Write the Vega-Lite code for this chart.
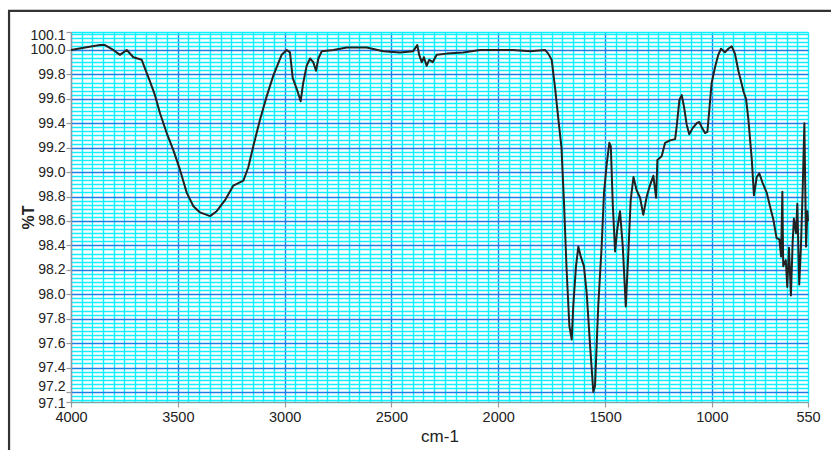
{
  "$schema": "https://vega.github.io/schema/vega-lite/v6.json",
  "width": 737,
  "height": 370,
  "autosize": {"type": "none"},
  "padding": {"left": 71, "top": 32, "right": 23, "bottom": 48},
  "background": "white",
  "config": {
    "view": {"stroke": null},
    "axis": {"labelFont": "Liberation Sans, Arial, sans-serif", "titleFont": "Liberation Sans, Arial, sans-serif"}
  },
  "layer": [
    {
      "data": {"values": [
        {"wn": 4000, "t": 100.0}, {"wn": 3934, "t": 100.02}, {"wn": 3864, "t": 100.04}, {"wn": 3841, "t": 100.04},
        {"wn": 3802, "t": 100.0}, {"wn": 3771, "t": 99.96}, {"wn": 3739, "t": 100.0}, {"wn": 3708, "t": 99.94},
        {"wn": 3669, "t": 99.92}, {"wn": 3654, "t": 99.85}, {"wn": 3630, "t": 99.74}, {"wn": 3607, "t": 99.63},
        {"wn": 3583, "t": 99.48}, {"wn": 3552, "t": 99.32}, {"wn": 3521, "t": 99.18}, {"wn": 3490, "t": 99.02},
        {"wn": 3458, "t": 98.83}, {"wn": 3427, "t": 98.72}, {"wn": 3396, "t": 98.67}, {"wn": 3349, "t": 98.64},
        {"wn": 3318, "t": 98.68}, {"wn": 3279, "t": 98.77}, {"wn": 3240, "t": 98.89}, {"wn": 3193, "t": 98.93},
        {"wn": 3170, "t": 99.04}, {"wn": 3147, "t": 99.21}, {"wn": 3115, "t": 99.43}, {"wn": 3084, "t": 99.62},
        {"wn": 3053, "t": 99.79}, {"wn": 3014, "t": 99.96}, {"wn": 2990, "t": 100.0}, {"wn": 2975, "t": 99.98},
        {"wn": 2962, "t": 99.77}, {"wn": 2943, "t": 99.68}, {"wn": 2925, "t": 99.58}, {"wn": 2913, "t": 99.73},
        {"wn": 2897, "t": 99.87}, {"wn": 2881, "t": 99.93}, {"wn": 2866, "t": 99.9}, {"wn": 2853, "t": 99.83},
        {"wn": 2842, "t": 99.93}, {"wn": 2826, "t": 99.99}, {"wn": 2772, "t": 100.0}, {"wn": 2709, "t": 100.02},
        {"wn": 2616, "t": 100.02}, {"wn": 2538, "t": 99.99}, {"wn": 2460, "t": 99.98}, {"wn": 2398, "t": 99.99},
        {"wn": 2379, "t": 100.04}, {"wn": 2370, "t": 99.96}, {"wn": 2358, "t": 99.9}, {"wn": 2348, "t": 99.94},
        {"wn": 2335, "t": 99.87}, {"wn": 2323, "t": 99.92}, {"wn": 2307, "t": 99.9}, {"wn": 2288, "t": 99.96},
        {"wn": 2241, "t": 99.97}, {"wn": 2164, "t": 99.98}, {"wn": 2085, "t": 100.0}, {"wn": 2007, "t": 100.0},
        {"wn": 1930, "t": 100.0}, {"wn": 1851, "t": 99.99}, {"wn": 1781, "t": 100.0}, {"wn": 1766, "t": 99.97},
        {"wn": 1750, "t": 99.92}, {"wn": 1734, "t": 99.69}, {"wn": 1719, "t": 99.44}, {"wn": 1704, "t": 99.2},
        {"wn": 1692, "t": 98.74}, {"wn": 1680, "t": 98.2}, {"wn": 1667, "t": 97.74}, {"wn": 1656, "t": 97.63},
        {"wn": 1649, "t": 97.9}, {"wn": 1636, "t": 98.23}, {"wn": 1625, "t": 98.39}, {"wn": 1614, "t": 98.31},
        {"wn": 1599, "t": 98.23}, {"wn": 1586, "t": 98.01}, {"wn": 1570, "t": 97.58}, {"wn": 1555, "t": 97.2},
        {"wn": 1547, "t": 97.25}, {"wn": 1532, "t": 97.9}, {"wn": 1516, "t": 98.39}, {"wn": 1505, "t": 98.83},
        {"wn": 1492, "t": 99.07}, {"wn": 1480, "t": 99.24}, {"wn": 1473, "t": 99.21}, {"wn": 1464, "t": 98.74},
        {"wn": 1453, "t": 98.35}, {"wn": 1443, "t": 98.53}, {"wn": 1430, "t": 98.68}, {"wn": 1417, "t": 98.39},
        {"wn": 1403, "t": 97.9}, {"wn": 1391, "t": 98.34}, {"wn": 1380, "t": 98.77}, {"wn": 1367, "t": 98.96},
        {"wn": 1352, "t": 98.85}, {"wn": 1336, "t": 98.79}, {"wn": 1321, "t": 98.65}, {"wn": 1305, "t": 98.8},
        {"wn": 1290, "t": 98.89}, {"wn": 1274, "t": 98.97}, {"wn": 1261, "t": 98.79}, {"wn": 1255, "t": 99.1},
        {"wn": 1235, "t": 99.13}, {"wn": 1219, "t": 99.24}, {"wn": 1196, "t": 99.26}, {"wn": 1172, "t": 99.27},
        {"wn": 1165, "t": 99.37}, {"wn": 1152, "t": 99.59}, {"wn": 1141, "t": 99.63}, {"wn": 1130, "t": 99.53},
        {"wn": 1118, "t": 99.39}, {"wn": 1106, "t": 99.31}, {"wn": 1090, "t": 99.36}, {"wn": 1071, "t": 99.4},
        {"wn": 1059, "t": 99.41}, {"wn": 1048, "t": 99.37}, {"wn": 1032, "t": 99.32}, {"wn": 1021, "t": 99.33},
        {"wn": 1012, "t": 99.51}, {"wn": 1001, "t": 99.73}, {"wn": 985, "t": 99.86}, {"wn": 970, "t": 99.96},
        {"wn": 957, "t": 100.01}, {"wn": 939, "t": 99.98}, {"wn": 923, "t": 100.01}, {"wn": 907, "t": 100.03},
        {"wn": 892, "t": 99.97}, {"wn": 876, "t": 99.83}, {"wn": 860, "t": 99.72}, {"wn": 852, "t": 99.66},
        {"wn": 840, "t": 99.6}, {"wn": 829, "t": 99.43}, {"wn": 813, "t": 99.1}, {"wn": 803, "t": 98.81},
        {"wn": 790, "t": 98.96}, {"wn": 778, "t": 98.99}, {"wn": 762, "t": 98.91}, {"wn": 743, "t": 98.83},
        {"wn": 728, "t": 98.72}, {"wn": 712, "t": 98.61}, {"wn": 697, "t": 98.46}, {"wn": 684, "t": 98.45},
        {"wn": 676, "t": 98.31}, {"wn": 670, "t": 98.84}, {"wn": 666, "t": 98.23}, {"wn": 654, "t": 98.28},
        {"wn": 647, "t": 98.06}, {"wn": 639, "t": 98.38}, {"wn": 630, "t": 97.99}, {"wn": 622, "t": 98.42},
        {"wn": 616, "t": 98.62}, {"wn": 606, "t": 98.5}, {"wn": 600, "t": 98.74}, {"wn": 591, "t": 98.08},
        {"wn": 583, "t": 98.39}, {"wn": 575, "t": 98.85}, {"wn": 567, "t": 99.4}, {"wn": 559, "t": 98.39},
        {"wn": 553, "t": 98.68}, {"wn": 550, "t": 98.6}
      ]},
      "mark": {"type": "line", "color": "#222222", "strokeWidth": 2, "strokeJoin": "round"},
      "encoding": {
        "x": {
          "field": "wn", "type": "quantitative",
          "scale": {"domain": [4000, 550], "nice": false, "zero": false},
          "axis": {
            "title": "cm-1", "titleFontSize": 17, "titleFontWeight": "normal", "titleColor": "#222222", "titlePadding": 5,
            "tickCount": 1000,
            "values": [550,600,650,700,750,800,850,900,950,1000,1050,1100,1150,1200,1250,1300,1350,1400,1450,1500,1550,1600,1650,1700,1750,1800,1850,1900,1950,2000,2050,2100,2150,2200,2250,2300,2350,2400,2450,2500,2550,2600,2650,2700,2750,2800,2850,2900,2950,3000,3050,3100,3150,3200,3250,3300,3350,3400,3450,3500,3550,3600,3650,3700,3750,3800,3850,3900,3950,4000],
            "labelExpr": "(datum.value % 500 === 0 || datum.value === 550) ? datum.label : ''",
            "format": "d",
            "labelFontSize": 14.5, "labelColor": "#222222", "labelPadding": 3, "labelOverlap": false, "labelFlush": false,
            "domainColor": "#999999", "domainWidth": 1.2,
            "tickColor": "#999999", "tickSize": 5, "tickWidth": 1.2,
            "tickOpacity": {"condition": {"test": "datum.value % 500 === 0 || datum.value === 550", "value": 1}, "value": 0},
            "grid": true,
            "gridColor": {"condition": {"test": "datum.value % 500 === 0", "value": "#1a7fe8"}, "value": "#10f0ff"},
            "gridWidth": 1.4, "gridOpacity": 1
          }
        },
        "y": {
          "field": "t", "type": "quantitative",
          "scale": {"domain": [97.118, 100.147], "nice": false, "zero": false},
          "axis": {
            "title": "%T", "titleFontSize": 16, "titleFontWeight": "bold", "titleColor": "#222222",
            "titleAngle": -90, "titleBaseline": "middle", "titleX": -43, "titleY": 185,
            "tickCount": 1000,
            "values": [97.118,97.1333,97.1667,97.2,97.2333,97.2667,97.3,97.3333,97.3667,97.4,97.4333,97.4667,97.5,97.5333,97.5667,97.6,97.6333,97.6667,97.7,97.7333,97.7667,97.8,97.8333,97.8667,97.9,97.9333,97.9667,98.0,98.0333,98.0667,98.1,98.1333,98.1667,98.2,98.2333,98.2667,98.3,98.3333,98.3667,98.4,98.4333,98.4667,98.5,98.5333,98.5667,98.6,98.6333,98.6667,98.7,98.7333,98.7667,98.8,98.8333,98.8667,98.9,98.9333,98.9667,99.0,99.0333,99.0667,99.1,99.1333,99.1667,99.2,99.2333,99.2667,99.3,99.3333,99.3667,99.4,99.4333,99.4667,99.5,99.5333,99.5667,99.6,99.6333,99.6667,99.7,99.7333,99.7667,99.8,99.8333,99.8667,99.9,99.9333,99.9667,100.0,100.0333,100.0667,100.1,100.1333,100.147],
            "labelExpr": "(datum.value < 97.12 || datum.value > 100.14 || abs(datum.value * 5 - round(datum.value * 5)) < 0.001) ? format(datum.value, '.1f') : ''",
            "labelFontSize": 14, "labelColor": "#222222", "labelPadding": 1, "labelOverlap": false, "labelFlush": false,
            "labelOffset": {"condition": [
              {"test": "datum.value < 97.12", "value": 1.5},
              {"test": "abs(datum.value - 97.2) < 0.001", "value": -5},
              {"test": "datum.value > 100.14", "value": 3}
            ], "value": 0},
            "domainColor": "#999999", "domainWidth": 1.2,
            "tickColor": "#999999", "tickSize": 5, "tickWidth": 1.2,
            "tickOpacity": {"condition": {"test": "datum.value < 97.12 || datum.value > 100.14 || abs(datum.value * 5 - round(datum.value * 5)) < 0.001", "value": 1}, "value": 0},
            "grid": true,
            "gridColor": {"condition": {"test": "datum.value > 97.12 && datum.value < 100.14 && abs(datum.value * 5 - round(datum.value * 5)) < 0.001", "value": "#1a7fe8"}, "value": "#10f0ff"},
            "gridWidth": 1.4, "gridOpacity": 1
          }
        }
      }
    },
    {
      "data": {"values": [{"frame": "border"}]},
      "mark": {"type": "rect", "fill": "white", "fillOpacity": 0, "stroke": "#333333", "strokeWidth": 2.2, "clip": false},
      "encoding": {
        "x": {"datum": 4290, "type": "quantitative"},
        "x2": {"datum": 400},
        "y": {"datum": 100.32, "type": "quantitative"},
        "y2": {"datum": 96.7}
      }
    }
  ]
}
